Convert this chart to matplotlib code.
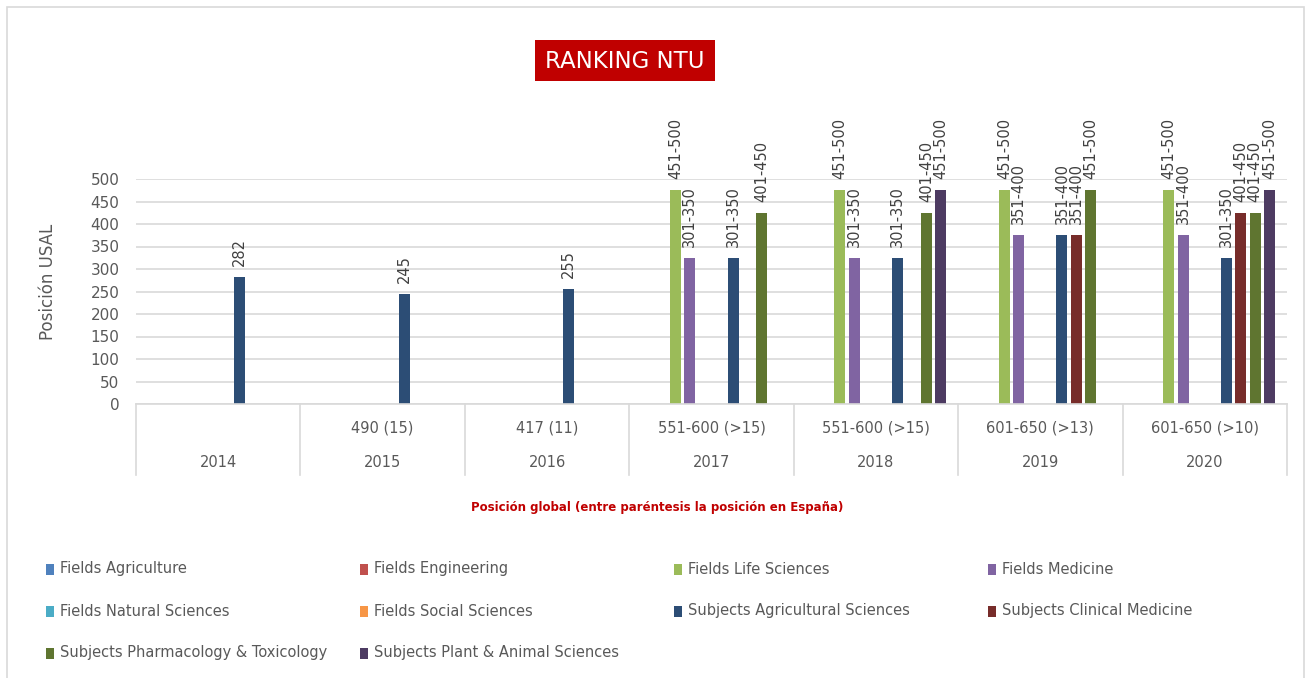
import numpy as np
import matplotlib.pyplot as plt
from matplotlib.patches import Rectangle
import matplotlib.transforms as mtransforms

nan = np.nan

years = ["2014", "2015", "2016", "2017", "2018", "2019", "2020"]
global_rank = ["", "490 (15)", "417 (11)", "551-600 (>15)", "551-600 (>15)",
               "601-650 (>13)", "601-650 (>10)"]

series_names = [
    "Fields Agriculture", "Fields Engineering", "Fields Life Sciences", "Fields Medicine",
    "Fields Natural Sciences", "Fields Social Sciences", "Subjects Agricultural Sciences",
    "Subjects Clinical Medicine", "Subjects Pharmacology & Toxicology",
    "Subjects Plant & Animal Sciences",
]
series_colors = ["#4F81BD", "#C0504D", "#9BBB59", "#8064A2", "#4BACC6", "#F79646",
                 "#2C4D75", "#772C2A", "#5F7530", "#4D3B62"]

# bar heights (middle of the range) and the labels shown above them
fields_agriculture = [nan] * 7
fields_engineering = [nan] * 7
fields_life = [nan, nan, nan, 475, 475, 475, 475]
fields_medicine = [nan, nan, nan, 325, 325, 375, 375]
fields_natural = [nan] * 7
fields_social = [nan] * 7
subj_agri = [282, 245, 255, 325, 325, 375, 325]
subj_clinical = [nan, nan, nan, nan, nan, 375, 425]
subj_pharma = [nan, nan, nan, 425, 425, 475, 425]
subj_plant = [nan, nan, nan, nan, 475, nan, 475]

lab_none = [""] * 7
lab_life = ["", "", "", "451-500", "451-500", "451-500", "451-500"]
lab_medicine = ["", "", "", "301-350", "301-350", "351-400", "351-400"]
lab_agri = ["282", "245", "255", "301-350", "301-350", "351-400", "301-350"]
lab_clinical = ["", "", "", "", "", "351-400", "401-450"]
lab_pharma = ["", "", "", "401-450", "401-450", "451-500", "401-450"]
lab_plant = ["", "", "", "", "451-500", "", "451-500"]

values = [fields_agriculture, fields_engineering, fields_life, fields_medicine,
          fields_natural, fields_social, subj_agri, subj_clinical, subj_pharma, subj_plant]
labels = [lab_none, lab_none, lab_life, lab_medicine, lab_none, lab_none,
          lab_agri, lab_clinical, lab_pharma, lab_plant]

W, H = 1311, 678
plt.rcParams['font.family'] = 'DejaVu Sans'
fig = plt.figure(figsize=(W / 100, H / 100), dpi=100)

# chart frame
fig.patches.append(Rectangle((7 / W, -0.02), 1297 / W, 1 - 7 / H + 0.02, transform=fig.transFigure,
                             fill=False, edgecolor="#D9D9D9", linewidth=1.2))

ax = fig.add_axes([136 / W, 1 - 404 / H, 1151 / W, 225 / H])

n = len(series_names)
slot = 0.0876
bar_w = 0.067
x = np.arange(len(years)) + 0.5
for i in range(n):
    pos = x + (i - (n - 1) / 2) * slot
    ax.bar(pos, values[i], bar_w, color=series_colors[i], zorder=2)
    for p, v, lab in zip(pos, values[i], labels[i]):
        if lab:
            ax.annotate(lab, (p, v), xytext=(0, 8), textcoords="offset points",
                        rotation=90, ha="center", va="bottom", fontsize=10.5,
                        color="#404040", annotation_clip=False)

ax.set_xlim(0, len(years))
ax.set_ylim(0, 500)
ax.set_yticks(np.arange(0, 501, 50))
ax.set_xticks([])
ax.grid(axis="y", color="#D9D9D9", linewidth=1.2, zorder=0)
ax.set_axisbelow(True)
for s in ["top", "right", "left"]:
    ax.spines[s].set_visible(False)
ax.spines["bottom"].set_color("#D9D9D9")
ax.spines["bottom"].set_linewidth(1.2)
ax.tick_params(axis="y", length=0, pad=12, labelsize=11, labelcolor="#595959")
ax.set_ylabel("Posición USAL", fontsize=12, color="#595959")
ax.yaxis.set_label_coords(-0.0686, 0.542)

# two-level category axis
trans = mtransforms.blended_transform_factory(ax.transData, ax.transAxes)
for k in range(len(years) + 1):
    ax.plot([k, k], [0, -0.316], transform=trans, color="#D9D9D9", linewidth=1.2, clip_on=False)
for xc, r, yr in zip(x, global_rank, years):
    ax.text(xc, -0.107, r, transform=trans, ha="center", va="center", fontsize=10.5, color="#595959")
ax.text(0, 0, "")
for xc, yr in zip(x, years):
    ax.text(xc, -0.262, yr, transform=trans, ha="center", va="center", fontsize=10.5, color="#595959")

fig.text(657 / W, 1 - 507 / H, "Posición global (entre paréntesis la posición en España)",
         ha="center", va="center", fontsize=8.5, fontweight="bold", color="#C00000")

# title box
fig.patches.append(Rectangle((535 / W, 1 - 81 / H), 180 / W, 41 / H, transform=fig.transFigure,
                             facecolor="#C00000", edgecolor="none"))
fig.text(625 / W, 1 - 61 / H, "RANKING NTU", ha="center", va="center", fontsize=16.5, color="white")

# legend, 4 columns filled row by row
for i, name in enumerate(series_names):
    row, col = divmod(i, 4)
    mx = 46 + 314 * col
    my = 569 + 42 * row
    fig.patches.append(Rectangle((mx / W, 1 - (my + 6) / H), 8 / W, 11 / H, transform=fig.transFigure,
                                 facecolor=series_colors[i], edgecolor="none"))
    fig.text((mx + 14) / W, 1 - my / H, name, ha="left", va="center", fontsize=10.5, color="#595959")

fig.savefig("out.png", dpi=100, facecolor="white")
